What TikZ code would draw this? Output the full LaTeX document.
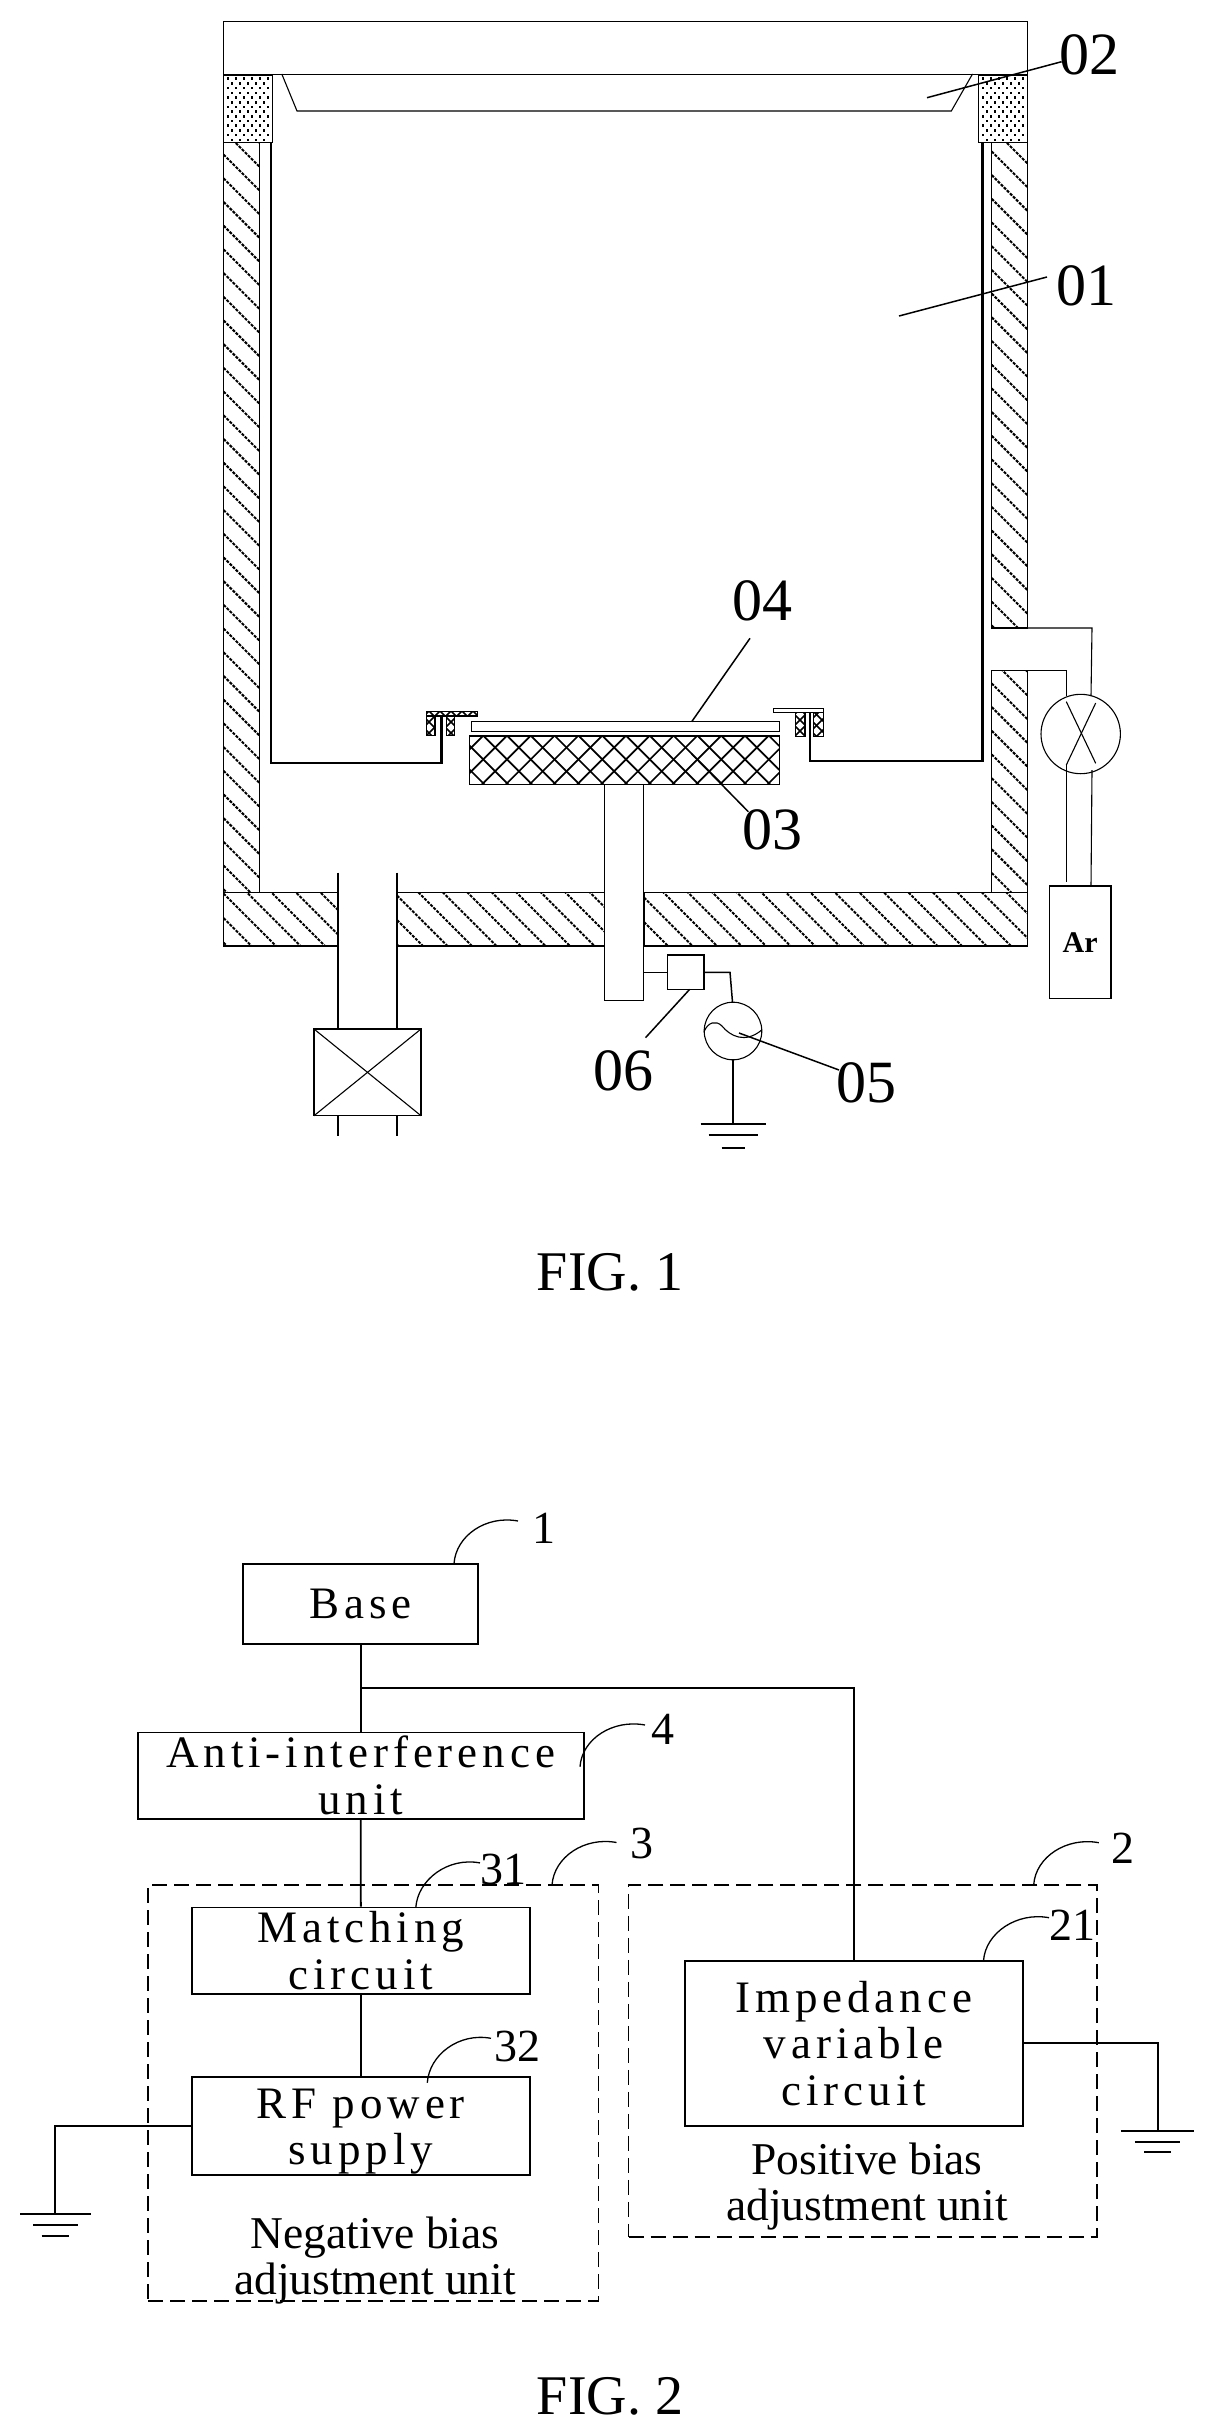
\documentclass[tikz,border=0pt]{standalone}
\usepackage{fontspec}
\setmainfont{Liberation Serif}
\newfontfamily\spacedfont[LetterSpace=11]{Liberation Serif}
\newcommand\hatchfill[7]{% x1 y1 x2 y2 c0 period style: lines y=x+c
  \begin{scope}
    \clip (#1,#2) rectangle (#3,#4);
    \pgfmathtruncatemacro\kmin{floor((#2-#3-(#5))/#6)}
    \pgfmathtruncatemacro\kmax{ceil((#4-#1-(#5))/#6)}
    \foreach \k in {\kmin,...,\kmax}{
      \pgfmathsetmacro\cc{#5+\k*#6}
      \draw[#7] (#1,{#1+\cc}) -- (#3,{#3+\cc});
    }
  \end{scope}}
\newcommand\crossfill[7]{% x1 y1 x2 y2 c0 d0 period
  \begin{scope}
    \clip (#1,#2) rectangle (#3,#4);
    \pgfmathtruncatemacro\kmin{floor((#2-#3-(#5))/#7)}
    \pgfmathtruncatemacro\kmax{ceil((#4-#1-(#5))/#7)}
    \foreach \k in {\kmin,...,\kmax}{
      \pgfmathsetmacro\cc{#5+\k*#7}
      \draw[crossline] (#1,{#1+\cc}) -- (#3,{#3+\cc});
    }
    \pgfmathtruncatemacro\kmin{floor((#2+#1-(#6))/#7)}
    \pgfmathtruncatemacro\kmax{ceil((#4+#3-(#6))/#7)}
    \foreach \k in {\kmin,...,\kmax}{
      \pgfmathsetmacro\cc{#6+\k*#7}
      \draw[crossline] (#1,{\cc-#1}) -- (#3,{\cc-#3});
    }
  \end{scope}}
\newcommand\dotblock[2]{% x left, y top
  \foreach \r in {0,...,13}{
    \pgfmathtruncatemacro\odd{mod(\r,2)}
    \foreach \q in {0,...,5}{
      \pgfmathsetmacro\xx{#1+3.2+\q*8+\odd*4}
      \pgfmathsetmacro\yy{#2+2.5+\r*4.7}
      \ifdim\xx pt<\dimexpr #1pt+47pt\relax
        \fill (\xx,\yy) rectangle ++(2.6,2.6);
      \fi
    }
  }
  \draw[thinline] (#1,#2) rectangle ++(49,67.7);}
\newcommand\groundsym[7]{% x y1 y2 y3 half widths
  \draw[groundline] ({#1-#5},#2) -- ({#1+#5},#2);
  \draw[groundline] ({#1-#6},#3) -- ({#1+#6},#3);
  \draw[groundline] ({#1-#7},#4) -- ({#1+#7},#4);}
\tikzset{
  thinline/.style={line width=1.1pt,draw=black},
  midline/.style={line width=1.5pt,draw=black},
  thickline/.style={line width=2.6pt,draw=black},
  hatchline/.style={line width=2pt,draw=black,dash pattern=on 3pt off 1.3pt},
  crossline/.style={line width=1.7pt,draw=black},
  leader/.style={line width=1.5pt,draw=black},
  groundline/.style={line width=1.7pt,draw=black},
  bigref/.style={inner sep=0pt,anchor=base,font=\fontsize{60}{60}\selectfont},
  smallref/.style={inner sep=0pt,anchor=base,font=\fontsize{46}{46}\selectfont},
  figlabel/.style={inner sep=0pt,anchor=base,font=\fontsize{56}{56}\selectfont},
  blockbox/.style={draw=black,line width=1.9pt,rectangle,inner sep=0pt,align=center,font=\spacedfont\fontsize{45}{46.5}\selectfont},
  dashbox/.style={draw=black,line width=1.7pt,rectangle,inner sep=0pt,dash pattern=on 15pt off 7pt},
  plainlabel/.style={inner sep=0pt,align=center,font=\fontsize{45.5}{46.5}\selectfont},
  wire/.style={line width=1.9pt,draw=black},
  callout/.style={line width=1.3pt,draw=black},
}
\begin{document}
\begin{tikzpicture}[x=1pt,y=-1pt]
\useasboundingbox (0,0) rectangle (1215,2435);
\fill[white] (0,0) rectangle (1215,2435);

% ---------- FIG. 1 ----------
% lid and window
\draw[thinline] (223.6,21.3) rectangle (1027.6,74.5);
\draw[thinline] (281.8,74) -- (297,111) -- (951.3,111) -- (972.5,74);
% dotted blocks
\dotblock{223.6}{75}
\dotblock{978.6}{75}
% side walls
\hatchfill{223.6}{142.7}{259.4}{892.7}{-92.7}{23.7}{hatchline}
\draw[thinline] (223.6,142.7) rectangle (259.4,892.7);
\hatchfill{991.7}{142.7}{1027.5}{628}{-864}{23.7}{hatchline}
\draw[thinline] (991.7,142.7) rectangle (1027.5,628);
\hatchfill{991.7}{670.7}{1027.5}{892.7}{-332}{23.7}{hatchline}
\draw[thinline] (991.7,670.7) rectangle (1027.5,892.7);
% bottom wall
\hatchfill{223.6}{892.7}{338}{946}{-65}{24.5}{hatchline}
\draw[thinline] (223.6,892.7) rectangle (338,946);
\hatchfill{397}{892.7}{604.7}{946}{-65}{24.5}{hatchline}
\draw[thinline] (397,892.7) rectangle (604.7,946);
\hatchfill{644}{892.7}{1027.5}{946}{-65}{24.5}{hatchline}
\draw[thinline] (644,892.7) rectangle (1027.5,946);
% liner
\draw[thickline] (271,142.7) -- (271,763) -- (441.7,763) -- (441.7,717);
\draw[thickline] (982.7,142.7) -- (982.7,761) -- (810,761) -- (810,713);
% clamps
\crossfill{426.3}{711.7}{477.7}{716}{-290}{1140}{11}
\draw[thinline] (426.3,711.7) rectangle (477.7,716);
\crossfill{426.3}{716}{435}{735.7}{-290}{1140}{11}
\draw[thinline] (426.3,716) rectangle (435,735.7);
\crossfill{446.7}{716}{454.7}{735.7}{-290}{1140}{11}
\draw[thinline] (446.7,716) rectangle (454.7,735.7);
\draw[thinline] (773.3,708.3) rectangle (823.3,712.3);
\crossfill{795.7}{712.3}{805}{736.7}{-80}{1520}{11}
\draw[thinline] (795.7,712.3) rectangle (805,736.7);
\crossfill{813.3}{712.3}{823.3}{736.7}{-80}{1520}{11}
\draw[thinline] (813.3,712.3) rectangle (823.3,736.7);
% wafer, pedestal, stem
\draw[midline] (471.7,721.7) rectangle (779.3,731.7);
\crossfill{469.3}{736}{779.3}{784.3}{-57}{1433}{23.8}
\draw[midline] (469.3,736) rectangle (779.3,784.3);
\draw[midline] (604.3,784.3) -- (604.3,1000.3) -- (643.3,1000.3) -- (643.3,784.3);
% exhaust pipe and valve
\draw[thinline] (338,872.7) -- (338,1029);
\draw[thinline] (397,872.7) -- (397,1029);
\draw[midline] (314,1029) rectangle (421,1115.7);
\draw[thinline] (314,1029) -- (421,1115.7);
\draw[thinline] (421,1029) -- (314,1115.7);
\draw[thinline] (338,1115.7) -- (338,1135.7);
\draw[thinline] (397,1115.7) -- (397,1135.7);
% RF feed
\draw[midline] (667.7,955) rectangle (704,989.3);
\draw[midline] (643.3,972.3) -- (667.7,972.3);
\draw[midline] (704,972.3) -- (730,972.3) -- (732.5,1002.3);
\draw[thinline] (733,1031) circle (28.8);
\draw[thinline] (704,1031.7) .. controls (708,1022) and (716,1020) .. (722,1026) .. controls (730,1036) and (745,1044) .. (761.7,1030);
\draw[thinline] (733,1059.8) -- (733,1124.3);
\groundsym{733}{1124.3}{1135.3}{1148}{32.5}{24.5}{11.5}{}
% gas line
\draw[thinline] (1027.5,628) -- (1092,628) -- (1091,696);
\draw[midline] (1027.5,670.7) -- (1066.3,670.7) -- (1066.3,696);
\draw[thinline] (1080.7,734) circle (39.7);
\draw[thinline] (1066.3,701.7) -- (1095.7,763.3);
\draw[thinline] (1095.7,703) -- (1066.3,765);
\draw[thinline] (1066.3,765) -- (1066.3,881.7);
\draw[thinline] (1092,770) -- (1091,886);
\node[draw=black,line width=1.3pt,rectangle,minimum width=61.6pt,minimum height=112.3pt,inner sep=0pt,font=\bfseries\fontsize{30}{30}\selectfont] (ar) at (1080.2,942.2) {Ar};
% reference numerals
\node[bigref] (n02) at (1089,75) {02};
\node[bigref] (n01) at (1086,305) {01};
\node[bigref] (n04) at (762,620.7) {04};
\node[bigref] (n03) at (772.3,849.3) {03};
\node[bigref] (n06) at (623.6,1090.7) {06};
\node[bigref] (n05) at (866.6,1102.3) {05};
\draw[leader] (927,97.7) -- (1061.6,61.7);
\draw[leader] (899,316) -- (1047,277);
\draw[leader] (691.7,721.7) -- (750,638.3);
\draw[leader] (691.7,754) -- (748.3,811.7);
\draw[leader] (689.7,989.3) -- (645.5,1037.7);
\draw[leader] (739,1033) -- (839,1070);
\node[figlabel] (fig1) at (610,1290) {FIG. 1};

% ---------- FIG. 2 ----------
\node[dashbox,minimum width=450.5pt,minimum height=415.7pt] (neg) at (373.25,2092.85) {};
\node[dashbox,minimum width=468.4pt,minimum height=352pt] (pos) at (862.8,2060.7) {};
\node[blockbox,minimum width=234.6pt,minimum height=80.4pt] (base) at (360.7,1603.8) {Base};
\node[blockbox,minimum width=446.2pt,minimum height=86.1pt] (anti) at (360.7,1775.5) {Anti-interference\\unit};
\node[blockbox,minimum width=338pt,minimum height=86.7pt] (match) at (360.8,1950.8) {Matching\\circuit};
\node[blockbox,minimum width=338pt,minimum height=86.6pt] (rf) at (360.8,2126) {\rule{0pt}{41pt}RF power\\supply};
\node[blockbox,minimum width=338pt,minimum height=165pt] (imp) at (853.7,2043.2) {Impedance\\variable\\circuit};
\node[plainlabel] (neglab) at (375,2260.5) {Negative bias\\adjustment unit};
\node[plainlabel] (poslab) at (867,2186.5) {Positive bias\\adjustment unit};
\coordinate (junction) at (base.south |- 0,1688);
\draw[wire] (base.south) -- (anti.north);
\draw[wire] (junction) -| (imp.north);
\draw[wire] (anti.south) -- (match.north);
\draw[wire] (match.south) -- (rf.north);
\coordinate (gndl) at (54.7,2214.3);
\coordinate (gndr) at (1158.4,2130.7);
\draw[wire] (rf.west) -| (gndl);
\draw[wire] (imp.east) -| (gndr);
\groundsym{55.5}{2214.3}{2225}{2235.7}{35.1}{22.2}{13.9}{}
\groundsym{1157.3}{2130.7}{2141.7}{2152.3}{36.4}{22.4}{13.2}{}
% callouts
\node[smallref] (n1) at (544,1543) {1};
\node[smallref] (n4) at (663.3,1744) {4};
\node[smallref] (n31) at (503.7,1884.6) {31};
\node[smallref] (n3) at (642,1858) {3};
\node[smallref] (n32) at (517,2061) {32};
\node[smallref] (n2) at (1122.7,1863.3) {2};
\node[smallref] (n21) at (1072.5,1940) {21};
\coordinate (c1a) at (454,1563.6);   \coordinate (c1b) at (518,1521);
\coordinate (c4a) at (580,1766.7);   \coordinate (c4b) at (645,1725);
\coordinate (c31a) at (415.8,1907.5);\coordinate (c31b) at (480,1862.9);
\coordinate (c3a) at (552,1885);     \coordinate (c3b) at (616.5,1842.5);
\coordinate (c32a) at (427.3,2082.7);\coordinate (c32b) at (491,2038.3);
\coordinate (c2a) at (1033.7,1884.7);\coordinate (c2b) at (1098.8,1842.7);
\coordinate (c21a) at (983.5,1960.7);\coordinate (c21b) at (1049,1917.7);
\foreach \a/\b in {c1a/c1b,c4a/c4b,c31a/c31b,c3a/c3b,c32a/c32b,c2a/c2b,c21a/c21b}{
  \draw[callout] (\a) .. controls +(2,-28) and +(-32,-6) .. (\b);
}
\node[figlabel] (fig2) at (610,2414) {FIG. 2};
\end{tikzpicture}
\end{document}
